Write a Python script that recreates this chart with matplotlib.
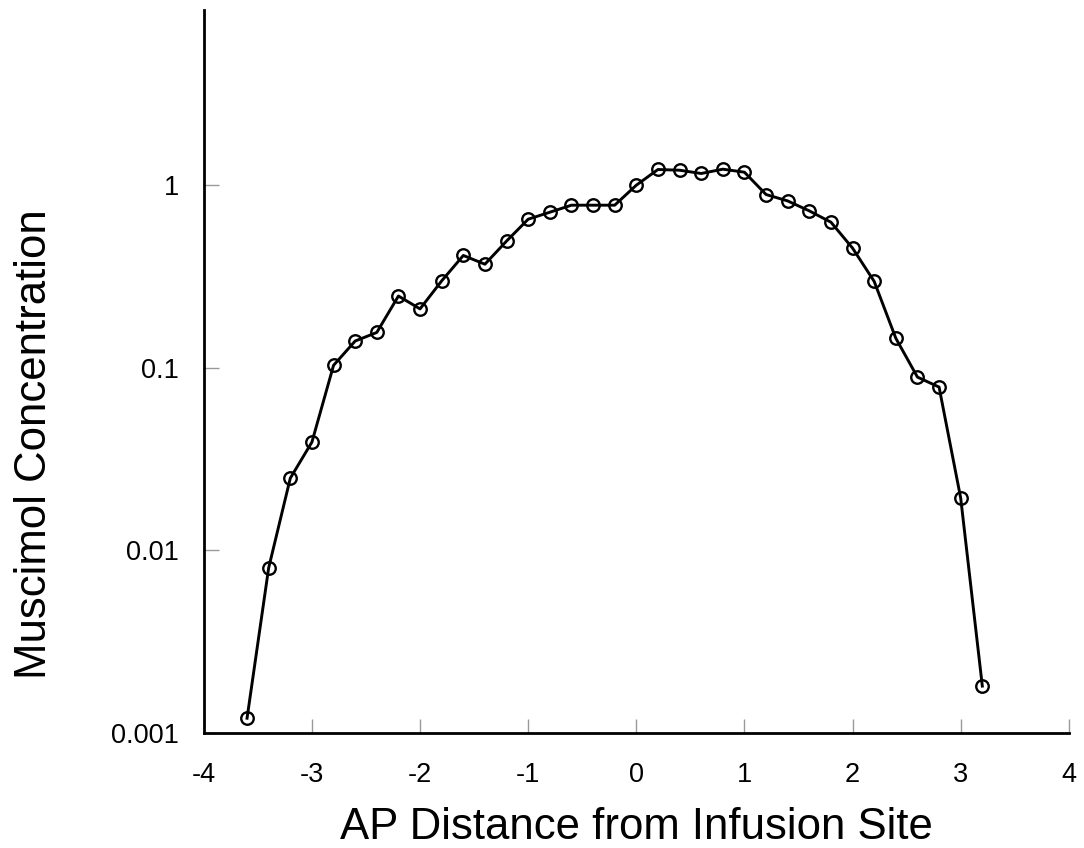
import numpy as np
import matplotlib.pyplot as plt
from matplotlib.ticker import FixedLocator, NullLocator

## data
ap_distance = [-3.6, -3.4, -3.2, -3.0, -2.8, -2.6, -2.4, -2.2, -2.0, -1.8,
               -1.6, -1.4, -1.2, -1.0, -0.8, -0.6, -0.4, -0.2, 0.0, 0.2,
               0.4, 0.6, 0.8, 1.0, 1.2, 1.4, 1.6, 1.8, 2.0, 2.2,
               2.4, 2.6, 2.8, 3.0, 3.2]
concentration = [0.0012, 0.0080, 0.0248, 0.0391, 0.103, 0.140, 0.156, 0.247, 0.210, 0.299,
                 0.412, 0.369, 0.494, 0.651, 0.711, 0.777, 0.777, 0.777, 1.0, 1.219,
                 1.208, 1.159, 1.224, 1.178, 0.889, 0.820, 0.723, 0.627, 0.452, 0.297,
                 0.145, 0.0888, 0.0783, 0.0193, 0.0018]
x_ticks = [-4, -3, -2, -1, 0, 1, 2, 3, 4]
y_ticks = [0.001, 0.01, 0.1, 1]
y_tick_labels = ['0.001', '0.01', '0.1', '1']

plt.rcParams['font.family'] = ['Liberation Sans', 'DejaVu Sans']
plt.rcParams['axes.unicode_minus'] = False

fig = plt.figure(figsize=(10.84, 8.48), dpi=100)
ax = fig.add_axes([0.188, 0.136, 0.798, 0.852])

ax.plot(ap_distance, concentration, '-', color='black', lw=2.1,
        marker='o', ms=9, mfc='none', mec='black', mew=1.7)

ax.set_yscale('log')
ax.set_xlim(-4, 4)
ax.set_ylim(0.001, 9.1)

ax.xaxis.set_major_locator(FixedLocator(x_ticks))
ax.yaxis.set_major_locator(FixedLocator(y_ticks))
ax.yaxis.set_minor_locator(NullLocator())
ax.set_yticklabels(y_tick_labels)

ax.spines['top'].set_visible(False)
ax.spines['right'].set_visible(False)
ax.spines['left'].set_linewidth(2)
ax.spines['bottom'].set_linewidth(2)

ax.tick_params(axis='x', direction='in', length=10, width=1, color='#999999',
               labelsize=19.5, pad=21)
ax.tick_params(axis='y', direction='in', length=11, width=1, color='#999999',
               labelsize=19.5, pad=18)

ax.set_xlabel('AP Distance from Infusion Site', fontsize=31.5, labelpad=14)
ax.set_ylabel('Muscimol Concentration', fontsize=31.5)
# label sits lower and further left than the axes centre in the original
ax.yaxis.set_label_coords(-0.172, 0.40)

fig.savefig('out.png', dpi=100)
